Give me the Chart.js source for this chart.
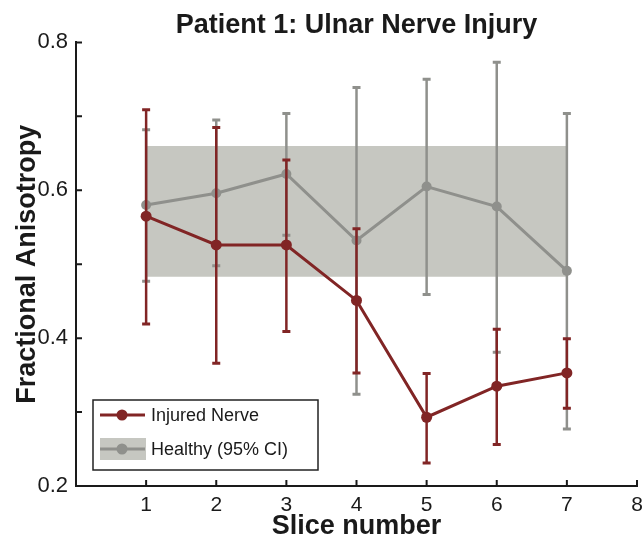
<!DOCTYPE html>
<html>
<head>
<meta charset="utf-8">
<script src="https://cdn.jsdelivr.net/npm/chart.js@4/dist/chart.umd.min.js"></script>
<style>
  html, body { margin: 0; padding: 0; background: #fff; }
  canvas { display: block; }
</style>
</head>
<body>
<canvas id="chart" width="642" height="536"></canvas>
<script>
// slice numbers
const slices = [1, 2, 3, 4, 5, 6, 7];

// injured nerve: mean FA and error bar ends
const injuredMean  = [0.565, 0.526, 0.526, 0.451, 0.293, 0.335, 0.353];
const injuredUpper = [0.709, 0.685, 0.641, 0.548, 0.352, 0.412, 0.399];
const injuredLower = [0.419, 0.366, 0.409, 0.353, 0.231, 0.256, 0.305];

// healthy controls: mean FA and error bar ends
const healthyMean  = [0.580, 0.596, 0.622, 0.532, 0.605, 0.578, 0.491];
const healthyUpper = [0.682, 0.695, 0.704, 0.739, 0.750, 0.773, 0.704];
const healthyLower = [0.477, 0.498, 0.539, 0.324, 0.459, 0.381, 0.277];

// healthy 95% CI band
const bandRange = [1, 7];
const bandUpper = 0.660;
const bandLower = 0.483;

const yTicks = [0.2, 0.4, 0.6, 0.8];

const RED = '#812525';
const GRAY = '#8f908c';
const BAND = '#c6c7c1';
const FONT = "'Liberation Sans', Arial, Helvetica, sans-serif";

const toPoints = (xs, ys) => xs.map((x, i) => ({ x: x, y: ys[i] }));

// error bars drawn through the scales, just before the dataset's own line
const errorBars = {
  id: 'errorBars',
  beforeDatasetDraw(chart, args) {
    const ds = chart.data.datasets[args.index];
    if (!ds.errUpper) return;
    const xs = chart.scales.x, ys = chart.scales.y;
    const ctx = chart.ctx;
    ctx.save();
    ctx.strokeStyle = ds.borderColor;
    ctx.lineWidth = 2.5;
    ds.data.forEach((p, i) => {
      const px = xs.getPixelForValue(p.x);
      const top = ys.getPixelForValue(ds.errUpper[i]);
      const bot = ys.getPixelForValue(ds.errLower[i]);
      ctx.beginPath();
      ctx.moveTo(px, top);
      ctx.lineTo(px, bot);
      ctx.stroke();
      ctx.lineWidth = 3;
      ctx.beginPath();
      ctx.moveTo(px - 4, top); ctx.lineTo(px + 4, top);
      ctx.moveTo(px - 4, bot); ctx.lineTo(px + 4, bot);
      ctx.stroke();
      ctx.lineWidth = 2.5;
    });
    ctx.restore();
  }
};

// inward tick marks, as in the original figure
const inwardTicks = {
  id: 'inwardTicks',
  afterDraw(chart) {
    const ctx = chart.ctx;
    const xs = chart.scales.x, ys = chart.scales.y;
    const area = chart.chartArea;
    ctx.save();
    ctx.strokeStyle = '#1a1a1a';
    ctx.lineWidth = 2;
    ctx.beginPath();
    ys.ticks.forEach(t => {
      const py = ys.getPixelForValue(t.value);
      ctx.moveTo(area.left, py);
      ctx.lineTo(area.left + 6, py);
    });
    xs.ticks.forEach(t => {
      if (t.value === 0) return;
      const px = xs.getPixelForValue(t.value);
      ctx.moveTo(px, area.bottom);
      ctx.lineTo(px, area.bottom - 6);
    });
    ctx.stroke();
    ctx.restore();
  }
};

// legend box inside the plot, lower left
const boxLegend = {
  id: 'boxLegend',
  afterDraw(chart) {
    const ctx = chart.ctx;
    const area = chart.chartArea;
    const x0 = area.left + 17, y0 = area.bottom - 86;
    const w = 225, h = 70;
    ctx.save();
    ctx.fillStyle = '#fff';
    ctx.fillRect(x0, y0, w, h);
    ctx.strokeStyle = '#222';
    ctx.lineWidth = 1.5;
    ctx.strokeRect(x0, y0, w, h);

    const rows = [chart.data.datasets[0], chart.data.datasets[1]];
    rows.forEach((ds, i) => {
      const cy = y0 + 15 + i * 34;
      const lx = x0 + 7;
      if (i === 1) {
        ctx.fillStyle = BAND;
        ctx.fillRect(lx, cy - 11, 46, 22);
      }
      ctx.strokeStyle = ds.borderColor;
      ctx.lineWidth = 3;
      ctx.beginPath();
      ctx.moveTo(lx, cy); ctx.lineTo(lx + 45, cy);
      ctx.stroke();
      ctx.fillStyle = ds.borderColor;
      ctx.beginPath();
      ctx.arc(lx + 22, cy, 5.5, 0, Math.PI * 2);
      ctx.fill();
      ctx.fillStyle = '#1a1a1a';
      ctx.font = '18px ' + FONT;
      ctx.textBaseline = 'middle';
      ctx.fillText(ds.label, lx + 51, cy + 1);
    });
    ctx.restore();
  }
};

new Chart(document.getElementById('chart'), {
  type: 'line',
  data: {
    datasets: [
      {
        label: 'Injured Nerve',
        data: toPoints(slices, injuredMean),
        errUpper: injuredUpper,
        errLower: injuredLower,
        borderColor: RED,
        backgroundColor: RED,
        borderWidth: 3,
        pointRadius: 5.5,
        pointBorderWidth: 0,
        fill: false
      },
      {
        label: 'Healthy (95% CI)',
        data: toPoints(slices, healthyMean),
        errUpper: healthyUpper,
        errLower: healthyLower,
        borderColor: GRAY,
        backgroundColor: GRAY,
        borderWidth: 3,
        pointRadius: 5,
        pointBorderWidth: 0,
        fill: false
      },
      {
        label: 'band upper',
        data: toPoints(bandRange, [bandUpper, bandUpper]),
        borderWidth: 0,
        borderColor: 'rgba(0,0,0,0)',
        pointRadius: 0,
        fill: false
      },
      {
        label: 'band lower',
        data: toPoints(bandRange, [bandLower, bandLower]),
        borderWidth: 0,
        borderColor: 'rgba(0,0,0,0)',
        backgroundColor: BAND,
        pointRadius: 0,
        fill: '-1'
      }
    ]
  },
  options: {
    responsive: false,
    animation: false,
    devicePixelRatio: 1,
    layout: { autoPadding: false, padding: { left: 0, right: 5, top: 0, bottom: 0 } },
    plugins: {
      legend: { display: false },
      tooltip: { enabled: false },
      title: {
        display: true,
        fullSize: false,
        text: 'Patient 1: Ulnar Nerve Injury',
        color: '#1a1a1a',
        font: { family: FONT, size: 27, weight: 'bold' },
        padding: { top: 9, bottom: 1 }
      }
    },
    scales: {
      x: {
        type: 'linear',
        min: 0,
        max: 8,
        grid: { display: false, drawTicks: false },
        border: { display: true, color: '#1a1a1a', width: 2 },
        ticks: {
          stepSize: 1,
          padding: 7,
          color: '#1a1a1a',
          font: { family: FONT, size: 21 },
          callback: v => (v === 0 ? '' : String(v))
        },
        title: {
          display: true,
          text: 'Slice number',
          color: '#1a1a1a',
          font: { family: FONT, size: 27, weight: 'bold' },
          padding: { top: 0, bottom: -7 }
        },
        afterFit: s => {
          s.height = 50;
          s.paddingLeft = 0;
          s.paddingRight = 0;
        }
      },
      y: {
        min: 0.2,
        max: 0.8,
        grid: { display: false, drawTicks: false },
        border: { display: true, color: '#1a1a1a', width: 2 },
        ticks: {
          stepSize: 0.1,
          padding: 8,
          color: '#1a1a1a',
          font: { family: FONT, size: 22 },
          callback: v => {
            const hit = yTicks.find(t => Math.abs(t - v) < 1e-6);
            return hit !== undefined ? hit.toFixed(1) : '';
          }
        },
        title: {
          display: true,
          text: 'Fractional Anisotropy',
          color: '#1a1a1a',
          font: { family: FONT, size: 27, weight: 'bold' },
          padding: { top: 11, bottom: 0 }
        },
        afterFit: s => { s.width = 76; }
      }
    }
  },
  plugins: [errorBars, inwardTicks, boxLegend]
});
</script>
</body>
</html>
